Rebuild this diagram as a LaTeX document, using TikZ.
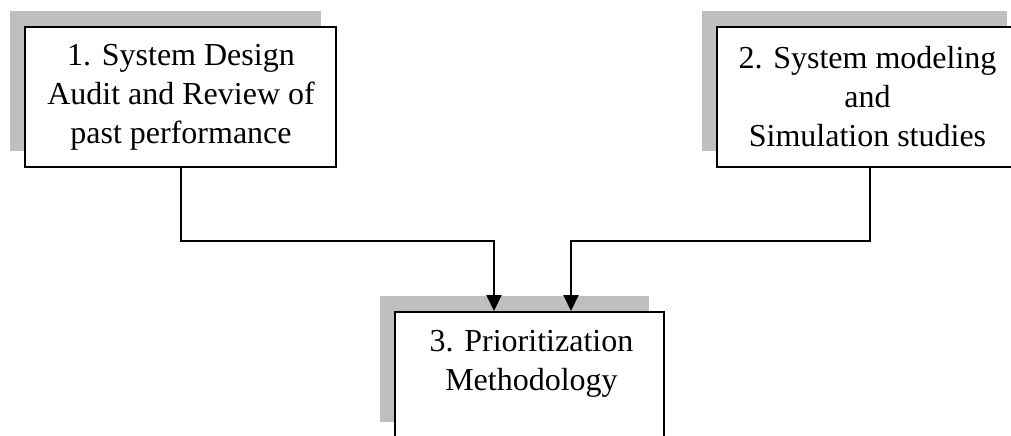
\documentclass[tikz,border=0pt]{standalone}
\usepackage{fontspec}
\setmainfont{Liberation Serif}
\usetikzlibrary{math}
\usetikzlibrary{shadows}
\usetikzlibrary{arrows.meta}

\tikzset{
	stagebox/.style = {draw, line width=1pt, fill=white, inner sep=0pt,
		general shadow={fill=black!25, shadow xshift=-7.5pt, shadow yshift=8pt}},
	stagetext/.style = {align=center, font=\fontsize{16}{19.5}\selectfont},
	feed/.style = {line width=1pt, -{Triangle[length=8pt, width=7.5pt]}}
}

\begin{document}
\begin{tikzpicture}[x=0.5pt, y=-0.5pt]

	\useasboundingbox (0,0) rectangle (1011,435);
	\clip (0,0) rectangle (1011,435);

	\tikzmath{\toprow = 97;};
	\tikzmath{\botrow = 375;};

	% the two studies on top
	\node[stagebox, minimum width=155.5pt, minimum height=70pt] (design) at (180.5,\toprow) {};
	\node[stagetext] (designtext) at ([xshift=0.25pt]design.center) {1. System Design\\Audit and Review of\\past performance};

	\node[stagebox, minimum width=152.5pt, minimum height=70pt] (model) at (869.5,\toprow) {};
	\node[stagetext] (modeltext) at ([xshift=-1pt]model.center) {2. System modeling\\and\\Simulation studies};

	% both feed the last stage
	\node[stagebox, minimum width=134.5pt, minimum height=63pt] (prio) at (529.5,\botrow) {};
	\node[stagetext] (priotext) at ([yshift=5.5pt, xshift=1pt]prio.center) {3. Prioritization\\Methodology};

	\draw[feed] (design.south) -- ++(0,73) -| ([xshift=-17.75pt]prio.north);
	\draw[feed] (model.south) -- ++(0,73) -| ([xshift=20.75pt]prio.north);

\end{tikzpicture}
\end{document}
